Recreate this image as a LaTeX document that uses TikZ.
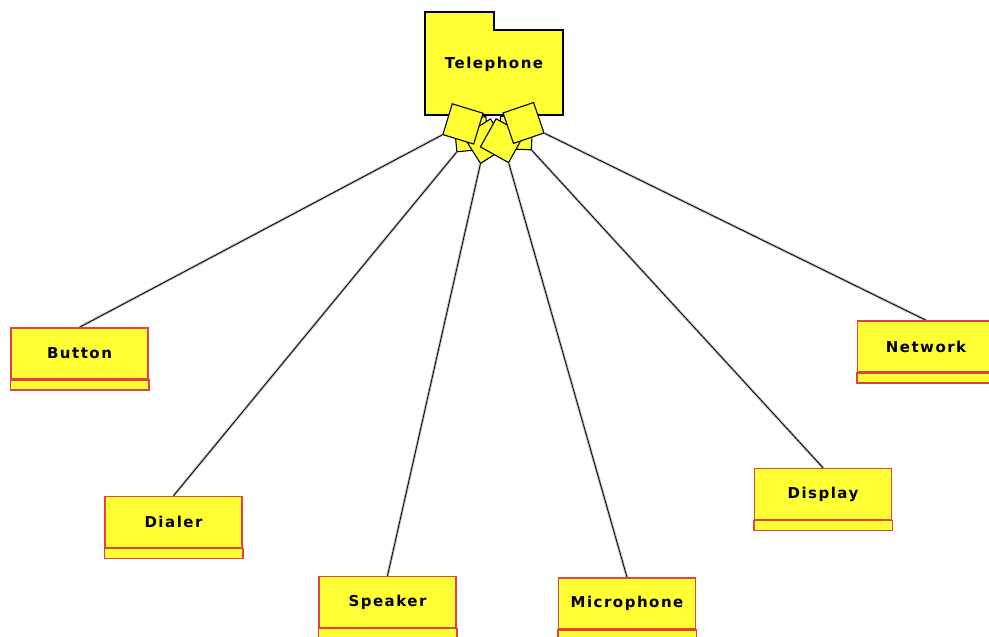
\documentclass[tikz,border=0pt]{standalone}
\usepackage{fontspec}
\newfontfamily\umlfont[LetterSpace=10]{DejaVu Sans}
\usetikzlibrary{shapes.geometric,calc,backgrounds}
\definecolor{umlyellow}{RGB}{255,255,51}
\definecolor{umlred}{RGB}{226,66,66}
\definecolor{halogray}{RGB}{190,190,190}
\begin{document}
\begin{tikzpicture}[x=1pt,y=1pt,
  umltext/.style={font=\umlfont\bfseries\fontsize{15}{18}\selectfont, text=black},
  cls/.style={umltext, draw=umlred, fill=umlyellow, line width=1.5pt,
    minimum width=137pt, minimum height=51pt, inner sep=0pt},
  compart/.style={draw=umlred, fill=umlyellow, line width=1.5pt},
  pkg/.style={draw=black, fill=umlyellow, line width=1.6pt, line join=miter},
  agg/.style={diamond, draw=black, fill=umlyellow, line width=1.1pt,
    minimum width=46pt, minimum height=46pt, inner sep=0pt},
  halo/.style={draw=halogray, line width=2.6pt},
  link/.style={draw=black, line width=0.8pt}]

\clip (0,0) rectangle (989,-637);
\begin{pgfonlayer}{background}
  \fill[white] (0,0) rectangle (989,-637);
\end{pgfonlayer}

% package "Telephone": body, folder tab and name
\node[minimum width=138pt, minimum height=85pt, inner sep=0pt] (telephone) at (494,-72.5) {};
\draw[pkg] (telephone.south west) -- (telephone.north west) -- ++(0,18) -- ++(69,0)
  -- ++(0,-18) -- (telephone.north east) -- (telephone.south east) -- cycle;
\node[umltext] (telephone-name) at (494,-64) {Telephone};

% part classes
\node[cls] (button)     at (79.5,-353.5) {Button};
\node[cls] (dialer)     at (173.5,-522)  {Dialer};
\node[cls] (speaker)    at (387.5,-602)  {Speaker};
\node[cls] (microphone) at (627,-603.5)  {Microphone};
\node[cls] (display)    at (823,-494)    {Display};
\node[cls] (network)    at (926,-346.5)  {Network};
\foreach \b in {button,dialer,speaker,microphone,display,network}
  \draw[compart] (\b.south west) rectangle ($(\b.south east)+(0,-10)$);

% aggregation diamonds under the package, each turned toward its part
\coordinate (hub) at (493,-108);
\foreach \b in {dialer,display,speaker,microphone,button,network}{
  \path let \p1 = ($(\b.north)-(hub)$), \n1 = {atan2(\y1,\x1)} in
    node[agg, rotate=\n1] (agg-\b) at ($(hub)!34pt!(\b.north)$) {};
  \begin{pgfonlayer}{background}
    \draw[halo] (agg-\b.east) -- (\b.north);
    \draw[link] (agg-\b.east) -- (\b.north);
  \end{pgfonlayer}
}
\end{tikzpicture}
\end{document}
